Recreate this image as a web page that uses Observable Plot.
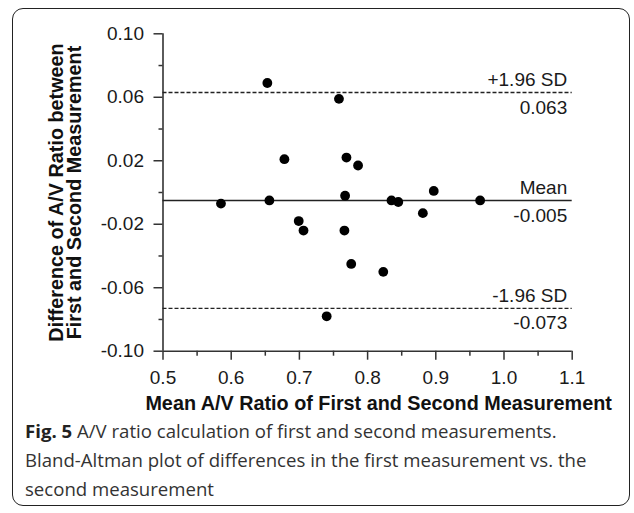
<!DOCTYPE html>
<html>
<head>
<meta charset="utf-8">
<script src="https://cdn.jsdelivr.net/npm/d3@7"></script>
<script src="https://cdn.jsdelivr.net/npm/@observablehq/plot@0.6"></script>
<style>
  html, body { margin: 0; padding: 0; background: #fff; }
  #wrap { position: relative; width: 634px; height: 513px; overflow: hidden; background: #fff; }
  #frame { position: absolute; left: 12px; top: 8px; width: 618px; height: 498px; border: 1.5px solid #222; border-radius: 11px; box-sizing: border-box; }
  #chart { position: absolute; left: 0; top: 0; }
  #caption { position: absolute; left: 25px; top: 416px; width: 605px; font-family: "Open Sans", sans-serif; font-size: 18.6px; line-height: 29px; color: #333; white-space: nowrap; }
  #caption b { color: #222; }
</style>
</head>
<body>
<div id="wrap">
  <div id="frame"></div>
  <div id="chart"></div>
  <div id="caption"><b>Fig. 5</b> A/V ratio calculation of first and second measurements.<br>Bland-Altman plot of differences in the first measurement vs. the<br>second measurement</div>
</div>
<script>
// Data
const meanRatio = [0.653, 0.758, 0.678, 0.769, 0.786, 0.897, 0.767, 0.585, 0.656, 0.835, 0.845, 0.699, 0.706, 0.766, 0.881, 0.776, 0.823, 0.740, 0.965];
const difference = [0.069, 0.059, 0.021, 0.022, 0.017, 0.001, -0.002, -0.007, -0.005, -0.005, -0.006, -0.018, -0.024, -0.024, -0.013, -0.045, -0.050, -0.078, -0.005];

const refNames = ["+1.96 SD", "Mean", "-1.96 SD"];
const refValues = [0.063, -0.005, -0.073];
const refLabels = ["0.063", "-0.005", "-0.073"];

const xMajorTicks = [0.5, 0.6, 0.7, 0.8, 0.9, 1.0, 1.1];
const xMinorTicks = [0.55, 0.65, 0.75, 0.85, 0.95, 1.05];
const yMajorTicks = [0.10, 0.06, 0.02, -0.02, -0.06, -0.10];
const yMinorTicks = [0.08, 0.04, 0.00, -0.04, -0.08];

const xTitle = "Mean A/V Ratio of First and Second Measurement";
const yTitle = "Difference of A/V Ratio between\nFirst and Second Measurement";

const points = meanRatio.map((x, i) => ({x, y: difference[i]}));
const refs = refNames.map((name, i) => ({name, value: refValues[i], label: refLabels[i]}));
const limits = refs.filter(d => d.name !== "Mean");
const meanLine = refs.filter(d => d.name === "Mean");

const axisColor = "#333";

const chart = Plot.plot({
  width: 634,
  height: 420,
  marginLeft: 162.5,
  marginRight: 62.3,
  marginTop: 33.3,
  marginBottom: 69.3,
  style: {fontFamily: "'Liberation Sans', Arial, sans-serif", fontSize: "19px", color: "#1a1a1a", background: "transparent"},
  x: {domain: [0.5, 1.1]},
  y: {domain: [-0.1, 0.1]},
  marks: [
    Plot.axisX({ticks: xMajorTicks, tickSize: 9, tickPadding: 10, tickFormat: d => d.toFixed(1), strokeWidth: 1.5, stroke: axisColor, label: null}),
    Plot.axisX({ticks: xMinorTicks, tickSize: 5, tickFormat: () => "", strokeWidth: 1.5, stroke: axisColor, label: null}),
    Plot.axisY({ticks: yMajorTicks, tickSize: 9, tickPadding: 10, tickFormat: d => d.toFixed(2), strokeWidth: 1.5, stroke: axisColor, label: null}),
    Plot.axisY({ticks: yMinorTicks, tickSize: 4, tickFormat: () => "", strokeWidth: 1.5, stroke: axisColor, label: null}),
    Plot.ruleX([0.5], {stroke: axisColor, strokeWidth: 1.6}),
    Plot.ruleY([-0.1], {stroke: axisColor, strokeWidth: 1.6}),
    Plot.ruleY(limits, {y: "value", stroke: "#222", strokeWidth: 1.4, strokeDasharray: "4,2"}),
    Plot.ruleY(meanLine, {y: "value", stroke: "#222", strokeWidth: 1.6}),
    Plot.dot(points, {x: "x", y: "y", r: 4.9, fill: "#000", stroke: "none"}),
    Plot.text(refs, {y: "value", text: "name", frameAnchor: "right", textAnchor: "end", dx: -5, dy: -12.5, fill: "#1a1a1a"}),
    Plot.text(refs, {y: "value", text: "label", frameAnchor: "right", textAnchor: "end", dx: -5, dy: 15, fill: "#1a1a1a"}),
    Plot.text([xTitle], {text: d => d, frameAnchor: "bottom", dx: 11, dy: 59, fontSize: 19.8, fontWeight: "bold", fill: "#111"}),
    Plot.text([yTitle], {text: d => d, frameAnchor: "left", textAnchor: "middle", rotate: -90, dx: -97, lineHeight: 0.9, fontSize: 19.8, fontWeight: "bold", fill: "#111"})
  ]
});
document.getElementById("chart").appendChild(chart);
</script>
</body>
</html>
